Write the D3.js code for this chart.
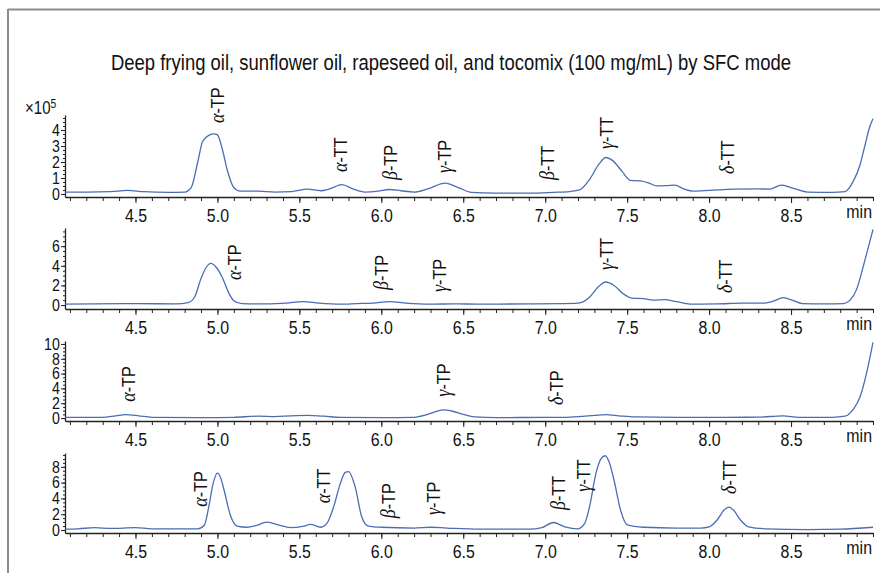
<!DOCTYPE html>
<html>
<head>
<meta charset="utf-8">
<script src="https://cdn.jsdelivr.net/npm/d3@7"></script>
<style>
  body { margin: 0; background: #fff; }
  svg { display: block; }
</style>
</head>
<body>
<svg id="chart" width="880" height="573"></svg>
<script>
// chromatograms, [time (min), signal (x10^5)]
var deepFrying = [[4.07,0.12],[4.2,0.12],[4.35,0.15],[4.45,0.22],[4.55,0.14],[4.7,0.1],[4.8,0.12],[4.84,0.4],[4.88,2.0],[4.91,3.3],[4.95,3.68],[4.98,3.76],[5.0,3.7],[5.03,2.8],[5.06,1.5],[5.1,0.4],[5.14,0.18],[5.25,0.18],[5.35,0.12],[5.45,0.15],[5.55,0.3],[5.63,0.2],[5.68,0.3],[5.76,0.58],[5.83,0.3],[5.9,0.12],[5.98,0.18],[6.05,0.28],[6.12,0.2],[6.2,0.12],[6.28,0.3],[6.39,0.68],[6.47,0.4],[6.55,0.1],[6.7,0.05],[6.9,0.05],[7.05,0.1],[7.15,0.15],[7.21,0.25],[7.27,0.9],[7.33,1.9],[7.37,2.28],[7.41,2.1],[7.47,1.4],[7.52,0.85],[7.58,0.82],[7.63,0.7],[7.68,0.5],[7.74,0.52],[7.79,0.55],[7.85,0.3],[7.9,0.18],[8.0,0.22],[8.15,0.3],[8.3,0.32],[8.37,0.3],[8.44,0.55],[8.5,0.4],[8.6,0.12],[8.75,0.1],[8.83,0.15],[8.88,0.8],[8.92,1.8],[8.95,3.0],[8.98,4.2],[9.0,4.7]];
var sunflower = [[4.07,0.1],[4.5,0.15],[4.75,0.12],[4.82,0.25],[4.86,0.8],[4.9,2.7],[4.93,3.8],[4.96,4.25],[4.99,3.9],[5.03,2.8],[5.07,1.2],[5.1,0.45],[5.15,0.15],[5.3,0.12],[5.42,0.2],[5.52,0.35],[5.62,0.2],[5.75,0.1],[5.85,0.15],[5.95,0.2],[6.05,0.35],[6.15,0.2],[6.3,0.1],[6.45,0.12],[6.6,0.1],[6.9,0.12],[7.1,0.15],[7.2,0.2],[7.27,0.8],[7.32,1.8],[7.37,2.35],[7.42,2.0],[7.48,1.1],[7.53,0.7],[7.6,0.65],[7.66,0.5],[7.73,0.55],[7.8,0.35],[7.9,0.1],[8.05,0.12],[8.2,0.2],[8.33,0.2],[8.4,0.45],[8.45,0.75],[8.5,0.55],[8.57,0.15],[8.7,0.12],[8.82,0.15],[8.86,0.5],[8.9,1.6],[8.94,3.9],[8.97,5.8],[9.0,7.7]];
var rapeseed = [[4.07,0.1],[4.3,0.1],[4.38,0.3],[4.44,0.45],[4.52,0.3],[4.6,0.1],[4.9,0.05],[5.1,0.1],[5.25,0.25],[5.35,0.2],[5.45,0.3],[5.55,0.35],[5.65,0.25],[5.75,0.08],[6.0,0.05],[6.2,0.1],[6.27,0.4],[6.33,0.85],[6.38,1.1],[6.43,0.95],[6.5,0.5],[6.57,0.15],[6.7,0.05],[7.0,0.1],[7.1,0.1],[7.2,0.2],[7.3,0.35],[7.37,0.45],[7.45,0.3],[7.55,0.15],[7.8,0.1],[8.1,0.1],[8.3,0.12],[8.45,0.3],[8.55,0.1],[8.75,0.1],[8.83,0.25],[8.88,1.2],[8.92,2.8],[8.96,6.0],[9.0,10.2]];
var tocomix = [[4.07,0.1],[4.15,0.15],[4.25,0.3],[4.35,0.2],[4.5,0.3],[4.6,0.15],[4.8,0.15],[4.88,0.15],[4.92,0.6],[4.945,2.7],[4.975,6.0],[5.0,7.2],[5.02,6.6],[5.04,5.1],[5.08,1.8],[5.12,0.5],[5.18,0.35],[5.24,0.6],[5.3,1.0],[5.36,0.7],[5.45,0.3],[5.52,0.45],[5.57,0.7],[5.63,0.35],[5.67,0.9],[5.71,3.0],[5.75,5.9],[5.78,7.3],[5.8,7.4],[5.84,5.5],[5.88,1.7],[5.92,0.5],[6.0,0.35],[6.2,0.25],[6.3,0.35],[6.4,0.25],[6.6,0.1],[6.9,0.1],[6.98,0.3],[7.05,0.95],[7.12,0.4],[7.2,0.15],[7.24,0.8],[7.27,2.9],[7.31,7.2],[7.34,9.0],[7.366,9.4],[7.39,8.6],[7.42,6.3],[7.46,2.5],[7.5,0.65],[7.6,0.35],[7.8,0.25],[7.95,0.25],[8.0,0.4],[8.05,1.3],[8.09,2.5],[8.12,2.9],[8.15,2.5],[8.19,1.3],[8.24,0.4],[8.35,0.15],[8.6,0.05],[8.8,0.1],[9.0,0.35]];

// peak labels: [greek, suffix, time, height of label foot]
var labels1 = [["α","-TP",5.0,4.44],["α","-TT",5.754,1.37],["β","-TP",6.053,0.87],["γ","-TP",6.388,1.31],["β","-TT",7.017,0.87],["γ","-TT",7.375,2.81],["δ","-TT",8.115,1.25]];
var labels2 = [["α","-TP",5.107,2.55],["β","-TP",6.0,1.53],["γ","-TP",6.358,1.33],["γ","-TT",7.375,3.57],["δ","-TT",8.097,1.22]];
var labels3 = [["α","-TP",4.456,2.2],["γ","-TP",6.378,2.88],["δ","-TP",7.07,1.76]];
var labels4 = [["α","-TP",4.894,2.95],["α","-TT",5.646,3.38],["β","-TP",6.043,1.48],["γ","-TP",6.317,1.9],["β","-TT",7.08,2.53],["γ","-TT",7.232,4.85],["δ","-TT",8.127,4.56]];

// axes
var timeDomain = [4.07, 9.0];
var timeMinor = d3.range(41, 91).map(d => d / 10);
var timeMajor = [4.5, 5.0, 5.5, 6.0, 6.5, 7.0, 7.5, 8.0, 8.5];
var yDomains = [[-0.19, 4.94], [-0.4, 7.85], [-0.4, 10.4], [-0.38, 9.75]];
var yMajors = [[0,1,2,3,4], [0,2,4,6], [0,2,4,6,8,10], [0,2,4,6,8]];
var yMinorStep = [0.25, 0.5, 0.5, 0.5];

var title = "Deep frying oil, sunflower oil, rapeseed oil, and tocomix (100 mg/mL) by SFC mode";

var FONT = "'Liberation Sans',Arial,sans-serif";
var LINE = "#4a6db4";
var INK = "#111";

// arial squeezed to a narrow face
function narrow(sel) {
    sel.each(function() {
        var t = d3.select(this);
        var prev = t.attr("transform") || "";
        t.attr("transform", prev + " scale(0.86,1)");
    });
}

var svg = d3.select("#chart");

// frame
svg.append("line").attr("x1", 8).attr("x2", 880).attr("y1", 9.5).attr("y2", 9.5)
    .attr("stroke", "#8c8c8c").attr("stroke-width", 2);
svg.append("line").attr("x1", 8).attr("x2", 8).attr("y1", 9).attr("y2", 573)
    .attr("stroke", "#8c8c8c").attr("stroke-width", 2);

svg.append("text")
    .attr("transform", "translate(451,70)")
    .attr("text-anchor", "middle")
    .attr("fill", INK)
    .style("font-family", FONT).style("font-size", "21.5px")
    .text(title)
    .call(narrow);

var x = d3.scaleLinear().domain(timeDomain).range([65, 873]);

var panels = [
    {data: deepFrying, labels: labels1, bottom: 197, top: 115},
    {data: sunflower, labels: labels2, bottom: 309, top: 228},
    {data: rapeseed, labels: labels3, bottom: 421, top: 341},
    {data: tocomix, labels: labels4, bottom: 533, top: 453}
];

panels.forEach(function(p, i) {
    var y = d3.scaleLinear().domain(yDomains[i]).range([p.bottom, p.top]);
    var g = svg.append("g");

    var yMinor = d3.range(0, yDomains[i][1] + 1e-6, yMinorStep[i]);

    // x axis, minor then major ticks
    g.append("g")
        .attr("transform", `translate(0,${p.bottom})`)
        .call(d3.axisBottom(x).tickValues(timeMinor).tickSize(4).tickSizeOuter(0).tickFormat(""))
        .call(g => g.selectAll("line").attr("stroke", "#222"))
        .call(g => g.select(".domain").attr("stroke", "#222").attr("stroke-width", 1.3));
    g.append("g")
        .attr("transform", `translate(0,${p.bottom})`)
        .call(d3.axisBottom(x).tickValues(timeMajor).tickSize(6).tickPadding(6).tickFormat(d3.format(".1f")))
        .call(g => g.select(".domain").remove())
        .call(g => g.selectAll("line").attr("stroke", "#222"))
        .call(g => g.selectAll("text").style("font-family", FONT)
            .style("font-size", "18.5px").attr("fill", INK).call(narrow));

    g.append("text")
        .attr("transform", `translate(872,${p.bottom + 21})`)
        .attr("text-anchor", "end")
        .style("font-family", FONT).style("font-size", "18.5px")
        .attr("fill", INK)
        .text("min")
        .call(narrow);

    // y axis
    g.append("g")
        .attr("transform", "translate(65,0)")
        .call(d3.axisLeft(y).tickValues(yMinor).tickSize(2).tickSizeOuter(0).tickFormat(""))
        .call(g => g.selectAll("line").attr("stroke", "#222"))
        .call(g => g.select(".domain").attr("stroke", "#222").attr("stroke-width", 1.3));
    g.append("g")
        .attr("transform", "translate(65,0)")
        .call(d3.axisLeft(y).tickValues(yMajors[i]).tickSize(4).tickPadding(2).tickFormat(d3.format("d")))
        .call(g => g.select(".domain").remove())
        .call(g => g.selectAll("line").attr("stroke", "#222"))
        .call(g => g.selectAll("text").style("font-family", FONT)
            .style("font-size", "16.5px").attr("fill", INK).call(narrow));

    var line = d3.line()
        .curve(d3.curveMonotoneX)
        .x(d => x(d[0]))
        .y(d => y(d[1]));

    g.append("path")
        .datum(p.data)
        .attr("fill", "none")
        .attr("stroke", LINE)
        .attr("stroke-width", 1.3)
        .attr("d", line);

    var lab = g.selectAll(".peak")
        .data(p.labels)
        .join("text")
        .attr("class", "peak")
        .attr("transform", d => `translate(${x(d[2]) + 6.5},${y(d[3])}) rotate(-90) scale(0.9,1)`)
        .attr("fill", INK)
        .style("font-size", "18px");
    lab.append("tspan")
        .style("font-family", "'Liberation Serif','DejaVu Serif',serif")
        .style("font-style", "italic")
        .style("font-size", "20px")
        .text(d => d[0]);
    lab.append("tspan")
        .style("font-family", FONT)
        .text(d => d[1]);
});

// exponent
svg.append("text")
    .attr("transform", "translate(25,114)")
    .style("font-family", FONT).style("font-size", "17.5px")
    .attr("fill", INK)
    .text("×10")
    .call(narrow)
    .append("tspan")
    .attr("dy", -6)
    .style("font-size", "12px")
    .text("5");
</script>
</body>
</html>
